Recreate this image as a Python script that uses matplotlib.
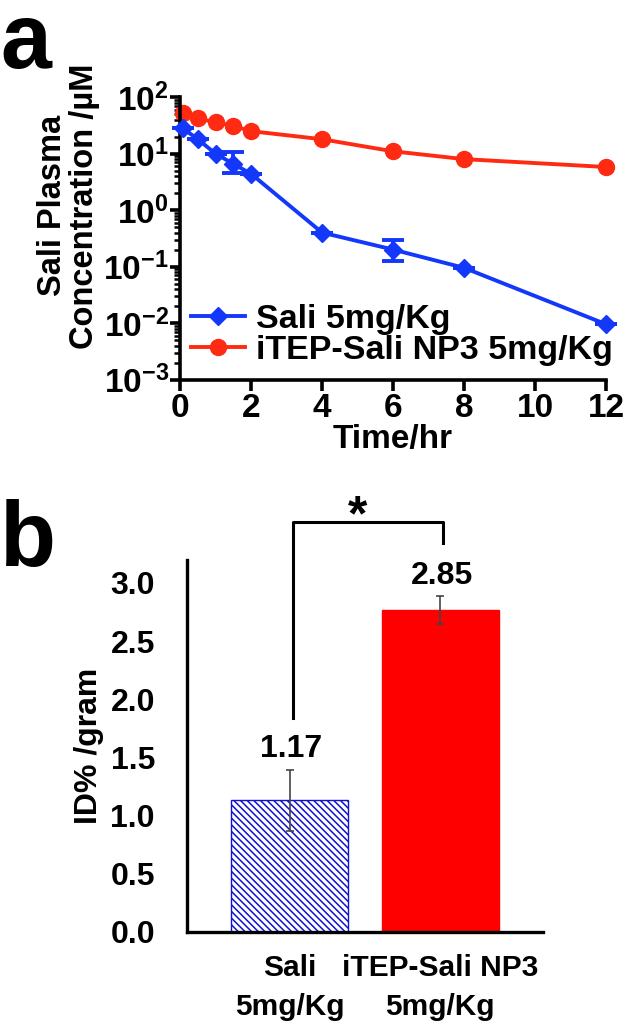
import numpy as np
import matplotlib.pyplot as plt
from matplotlib.ticker import FixedLocator, FuncFormatter, NullFormatter

plt.rcParams['font.family'] = ['Liberation Sans', 'DejaVu Sans']
plt.rcParams['font.weight'] = 'bold'
plt.rcParams['mathtext.fontset'] = 'custom'
plt.rcParams['mathtext.rm'] = 'Liberation Sans:bold'
plt.rcParams['mathtext.bf'] = 'Liberation Sans:bold'
plt.rcParams['hatch.linewidth'] = 1.1

# panel a data
time_hr = [0.083, 0.5, 1, 1.5, 2, 4, 6, 8, 12]
sali_conc = [28, 18, 10, 6.6, 4.4, 0.40, 0.20, 0.095, 0.0095]
sali_err_hi = [0, 0, 0, 4.2, 0, 0, 0.10, 0, 0]
sali_err_lo = [0, 0, 0, 2.0, 0, 0, 0.075, 0, 0]
np3_conc = [52, 42, 36, 31, 25, 18, 11, 8.0, 5.8]
series_labels = ['Sali 5mg/Kg', 'iTEP-Sali NP3 5mg/Kg']

# panel b data
groups = ['Sali\n5mg/Kg', 'iTEP-Sali NP3\n5mg/Kg']
id_gram = [1.13, 2.77]
id_err = [0.26, 0.12]
value_labels = ['1.17', '2.85']

fig = plt.figure(figsize=(6.25, 10.23), dpi=100)
ax1 = fig.add_axes([0.288, 0.629, 0.682, 0.276])
ax2 = fig.add_axes([0.299, 0.089, 0.570, 0.364])

blue = '#1438fa'
red = '#ff2a12'

ax1.errorbar(time_hr, sali_conc, yerr=[sali_err_lo, sali_err_hi], fmt='none', ecolor=blue,
             capsize=8, capthick=2.8, elinewidth=2.8, clip_on=False, zorder=3)
ax1.plot(time_hr, sali_conc, color=blue, lw=2.8, marker='D', markersize=9.5,
         label=series_labels[0], clip_on=False, zorder=3)
ax1.plot(time_hr, np3_conc, color=red, lw=2.8, marker='o', markersize=11.5,
         label=series_labels[1], clip_on=False, zorder=2)
ax1.set_yscale('log')
ax1.set_ylim(1e-3, 1e2)
ax1.set_xlim(0, 12)
ax1.set_xticks([0, 2, 4, 6, 8, 10, 12])
ax1.yaxis.set_major_locator(FixedLocator([1e-3, 1e-2, 1e-1, 1, 10, 100]))
ax1.yaxis.set_major_formatter(FuncFormatter(
    lambda v, p: r'$\mathbf{10^{%d}}$' % int(round(np.log10(v)))))
minors = [m * 10.0 ** e for e in range(-3, 2) for m in range(2, 10)]
ax1.yaxis.set_minor_locator(FixedLocator(minors))
ax1.yaxis.set_minor_formatter(NullFormatter())
for s in ['top', 'right']:
    ax1.spines[s].set_visible(False)
for s in ['left', 'bottom']:
    ax1.spines[s].set_linewidth(2.6)
ax1.tick_params(axis='y', which='major', length=7, width=2.6, labelsize=24, pad=1)
ax1.tick_params(axis='y', which='minor', length=4, width=1.8)
ax1.tick_params(axis='x', length=8, width=2.6, labelsize=24, pad=2)
ax1.set_xlabel('Time/hr', fontsize=24, fontweight='bold', labelpad=0)
ax1.set_ylabel('Sali Plasma\nConcentration /µM', fontsize=23.5, fontweight='bold',
               linespacing=1.05)
ax1.yaxis.set_label_coords(-0.188, 0.615)
ax1.legend(loc='lower left', bbox_to_anchor=(-0.03, -0.035), frameon=False,
           fontsize=24.5, handlelength=1.6, handletextpad=0.3, labelspacing=0.0,
           borderpad=0.2)

x = np.arange(len(groups))
ax2.bar(x[0], id_gram[0], width=0.78, color='white', edgecolor='#1010d0',
        hatch='\\\\\\\\\\', linewidth=1)
ax2.bar(x[1], id_gram[1], width=0.78, color='#ff0000', edgecolor='#ff0000')
ax2.errorbar(x, id_gram, yerr=id_err, fmt='none', ecolor='#444444', elinewidth=1.2,
             capsize=3, capthick=1.2)
label_y = [1.57, 3.06]
for xi, lab in zip(x, value_labels):
    ax2.text(xi + 0.01, label_y[xi], lab, ha='center', va='center', fontsize=23,
             fontweight='bold')
ax2.set_xlim(-0.687, 1.687)
ax2.set_ylim(0, 3.2)
ax2.set_yticks([0, 0.5, 1.0, 1.5, 2.0, 2.5, 3.0])
ax2.set_yticklabels(['0.0', '0.5', '1.0', '1.5', '2.0', '2.5', '3.0'])
ax2.set_xticks(x)
ax2.set_xticklabels(groups, linespacing=1.5)
for s in ['top', 'right']:
    ax2.spines[s].set_visible(False)
for s in ['left', 'bottom']:
    ax2.spines[s].set_linewidth(2.4)
ax2.tick_params(axis='y', length=0, labelsize=23, pad=23)
ax2.tick_params(axis='x', length=0, labelsize=21.5, pad=16)
ax2.set_ylabel('ID% /gram', fontsize=23, fontweight='bold')
ax2.yaxis.set_label_coords(-0.232, 0.5)

# significance bracket
ax2.plot([0.02, 0.02, 1.02, 1.02], [1.84, 3.52, 3.52, 3.34], color='black', lw=2.2,
         clip_on=False)
ax2.text(0.45, 3.56, '*', ha='center', va='center', fontsize=36, fontweight='bold')

fig.text(0.0, 0.999, 'a', fontsize=66, fontweight='bold', va='top', ha='left')
fig.text(0.0, 0.512, 'b', fontsize=66, fontweight='bold', va='top', ha='left')

fig.savefig('out.png', dpi=100)
